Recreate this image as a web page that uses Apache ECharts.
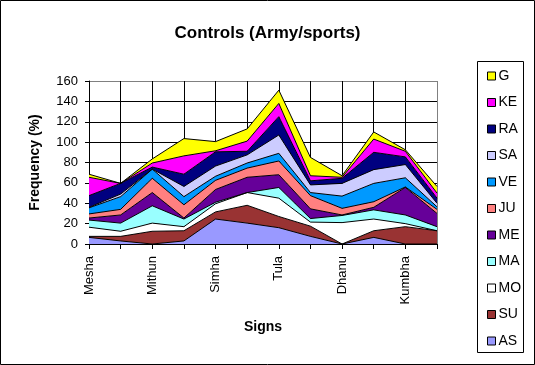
<!DOCTYPE html>
<html><head><meta charset="utf-8">
<script src="https://cdn.jsdelivr.net/npm/echarts@6/dist/echarts.min.js"></script>
<style>html,body{margin:0;padding:0;background:#fff;}#c{width:535px;height:365px;}</style>
</head><body><div id="c"></div>
<script>
const categories = ['Mesha','Vrishabha','Mithun','Karka','Simha','Kanya','Tula','Vrischika','Dhanu','Makara','Kumbha','Meena'];
const AS = [6.5, 3, 0, 3, 24.5, 20.5, 16, 7.5, 0, 6.5, 0, 0];
const SU = [1, 4.5, 12.5, 10, 7, 17.5, 11, 10, 0, 6.5, 17, 13];
const MO = [9, 5, 8, 4, 8, 12.5, 18, 4, 21, 11.5, 3, 0];
const MA = [7, 8, 17, 7.5, 1.5, 0, 10.5, 3.5, 7, 9, 8.5, 4];
const ME = [2, 8, 13, 1, 12.5, 15, 12.5, 9.5, 0.5, 2.5, 27, 13];
const JU = [4, 5.5, 14, 13, 9, 9, 13.5, 13, 6.5, 5.5, 0.5, 4];
const VE = [6, 12.5, 9, 8, 4, 5, 7.5, 3, 12, 18, 9, 2.5];
const SA = [0.5, 2.5, 0, 10, 10, 8, 18, 7.5, 12.5, 13.5, 13, 3.5];
const RA = [11.5, 10.5, 2, 12, 14, 3.5, 18, 4, 5, 17, 7.5, 5];
const KE = [18, 0, 4, 18, 1, 10, 13, 5, 1, 13, 5.5, 5];
const G  = [3, 0, 4, 17, 9, 12, 13, 18, 1.5, 7, 1.5, 6.5];
const yTicks = [0, 20, 40, 60, 80, 100, 120, 140, 160];

const seriesDefs = [
  ['AS', AS, '#9999FF'], ['SU', SU, '#993333'], ['MO', MO, '#FFFFFF'], ['MA', MA, '#99FFFF'],
  ['ME', ME, '#660099'], ['JU', JU, '#FF8080'], ['VE', VE, '#0099FF'], ['SA', SA, '#CCCCFF'],
  ['RA', RA, '#000080'], ['KE', KE, '#FF00FF'], ['G', G, '#FFFF00']
];
const font = 'Liberation Sans, Arial, sans-serif';
const chart = echarts.init(document.getElementById('c'), null, {renderer: 'canvas'});
const xLineColors = categories.map((c, i) => i === categories.length - 1 ? '#808080' : '#000');
const yLineColors = yTicks.map((v, i) => i === yTicks.length - 1 ? '#808080' : '#000');
chart.setOption({
  animation: false,
  backgroundColor: '#fff',
  title: {text: 'Controls (Army/sports)', left: 'center', top: 20, textStyle: {fontFamily: font, fontSize: 17, fontWeight: 'bold', color: '#000'}},
  grid: {left: 89, top: 81, width: 348, height: 163, containLabel: false},
  legend: {
    orient: 'vertical', left: 482, top: 64, itemWidth: 8, itemHeight: 8, itemGap: 12.5, icon: 'rect',
    data: ['G','KE','RA','SA','VE','JU','ME','MA','MO','SU','AS'],
    itemStyle: {borderColor: '#000', borderWidth: 1},
    textStyle: {fontFamily: font, fontSize: 14, color: '#000', padding: [0, 0, 0, -2]}
  },
  graphic: [
    {type: 'rect', shape: {x: 0.5, y: 0.5, width: 534, height: 364}, style: {fill: 'none', stroke: '#000', lineWidth: 1}, silent: true},
    {type: 'rect', shape: {x: 477.5, y: 61.5, width: 46, height: 291}, style: {fill: 'none', stroke: '#000', lineWidth: 1}, silent: true}
  ],
  xAxis: {
    type: 'category', data: categories, boundaryGap: false,
    name: 'Signs', nameLocation: 'middle', nameGap: 76,
    nameTextStyle: {fontFamily: font, fontSize: 14, fontWeight: 'bold', color: '#000'},
    axisLine: {lineStyle: {color: '#000', width: 1}},
    axisTick: {show: true, interval: 0, length: 5, lineStyle: {color: '#000'}},
    axisLabel: {interval: 1, rotate: 90, fontFamily: font, fontSize: 13, color: '#000', margin: 12},
    splitLine: {show: true, interval: 0, lineStyle: {color: xLineColors, width: 1}}
  },
  yAxis: {
    type: 'value', min: 0, max: 160, interval: 20,
    name: 'Frequency (%)', nameLocation: 'middle', nameGap: 47, nameRotate: 90,
    nameTextStyle: {fontFamily: font, fontSize: 14, fontWeight: 'bold', color: '#000'},
    axisLine: {show: true, lineStyle: {color: '#000', width: 1}},
    axisTick: {show: true, length: 4, lineStyle: {color: '#000'}},
    axisLabel: {fontFamily: font, fontSize: 13, color: '#000', margin: 11},
    splitLine: {show: true, lineStyle: {color: yLineColors, width: 1}}
  },
  series: seriesDefs.map(([name, data, color]) => ({
    name, type: 'line', stack: 'total', data, symbol: 'none', showSymbol: false,
    itemStyle: {color},
    lineStyle: {color: '#000', width: 1},
    areaStyle: {color, opacity: 1}
  }))
});
</script></body></html>
